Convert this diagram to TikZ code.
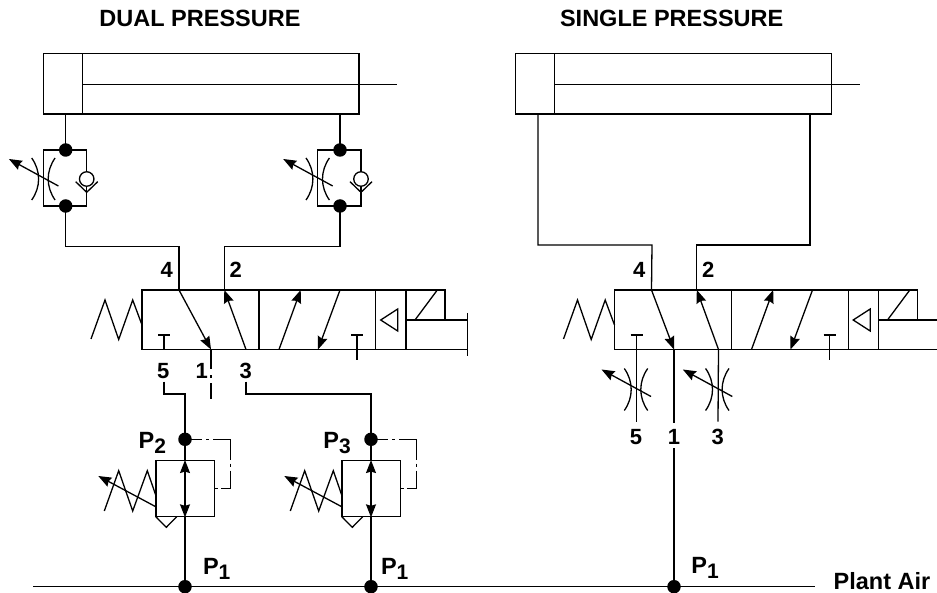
\documentclass[tikz,border=0pt]{standalone}
\usepackage{fontspec}
\setmainfont{Liberation Sans}
\usetikzlibrary{arrows.meta}
\tikzset{
  ln/.style={line width=1.3pt,line cap=butt,line join=miter},
  flow/.style={ln,-{Stealth[length=13pt,width=10pt,inset=1.5pt]}},
  bi/.style={ln,{Stealth[length=13pt,width=10pt,inset=1.5pt]}-{Stealth[length=13pt,width=10pt,inset=1.5pt]}},
  dot/.style={circle,fill=black,inner sep=0pt,minimum size=13.5pt},
  pilot/.style={ln,dash pattern=on 17pt off 4pt on 3pt off 4pt on 38pt off 4pt on 3pt off 4pt on 28pt off 3pt on 6pt off 20pt},
  box/.style={draw,ln,rectangle,inner sep=0pt},
  ttl/.style={font=\bfseries\fontsize{23.5}{26}\selectfont,inner sep=0pt},
  num/.style={font=\bfseries\fontsize{22}{24}\selectfont,inner sep=0pt},
  prs/.style={font=\bfseries\fontsize{23.5}{25}\selectfont,inner sep=0pt}
}
\newcommand{\Psub}[1]{P\raisebox{-5pt}{\fontsize{21}{22}\selectfont #1}}
% restrictor with adjustable arrow; #1 = centre
\newcommand{\Restr}[1]{%
  \begin{scope}[shift={#1}]
    \draw[ln] (-11.7,-21) .. controls (-2.5,-8) and (-2.5,8) .. (-11.7,21);
    \draw[ln] (11.7,-21) .. controls (2.5,-8) and (2.5,8) .. (11.7,21);
    \draw[flow] (15,7) -- (-34.5,-20);
  \end{scope}}
% check valve in a flow control; #1 = x shift, #2 = name prefix
\newcommand{\FlowCtl}[2]{%
  \begin{scope}[shift={(#1,0)}]
    \node[dot] (#2t) at (65.7,150) {};
    \node[dot] (#2b) at (65.7,206) {};
    \node[circle,draw,ln,inner sep=0pt,minimum size=14.5pt] (#2c) at (86.7,179) {};
    \coordinate (#2v) at (86.7,192.3);
    \draw[ln] (#2t.center) -| (43.4,206) -- (#2b.center);
    \draw[ln] (#2t.center) -| (#2c.north);
    \draw[ln] (#2c.south) -- (#2v) |- (#2b.center);
    \draw[ln] (75.7,181.7) -- (#2v) -- (97.7,181.7);
  \end{scope}
  \Restr{(#1+43.4,179)}}
% valve body; #1 = x shift, #2 = name prefix, #3 = x of port 1 before shift
\newcommand{\Valve}[3]{%
  \begin{scope}[shift={(#1,0)}]
    \coordinate (#2p4) at (179,290);
    \coordinate (#2p2) at (224.3,290);
    \coordinate (#2p1) at (#3,349.5);
    \coordinate (#2p3) at (246,349.5);
    \coordinate (#2p5) at (164,349.5);
    \draw[ln] (142,290) rectangle (406,349.5);
    \draw[ln] (259,290) -- (259,349.5);
    \draw[ln] (375.7,290) -- (375.7,349.5);
    \draw[ln] (406,290) -- (445,290) -- (445,320);
    \draw[line width=1.7pt] (406,290) -- (406,349.5);
    \draw[line width=1.9pt] (406,320) -- (445,320);
    \draw[ln] (437.3,290) -- (415,320);
    \draw[ln] (380.7,320) -- (397.7,309) -- (397.7,331) -- cycle;
    \draw[ln] (91,339) -- (105,300) -- (118.7,339.5) -- (132.7,300) -- (142,325);
    \draw[flow] (#2p4) -- (#2p1);
    \draw[flow] (#2p3) -- (#2p2);
    \draw[flow] (279,349.5) -- (300.7,290);
    \draw[flow] (340,290) -- (318,349.5);
    \draw[ln] (158,335) -- (170,335);
    \draw[ln] (164,335) -- (#2p5);
    \draw[ln] (351,335) -- (363,335);
    \draw[ln] (357,335) -- (357,360);
  \end{scope}}
% pressure regulator; #1 = x shift, #2 = name prefix
\newcommand{\Reg}[2]{%
  \begin{scope}[shift={(#1,0)}]
    \node[dot] (#2t) at (185,439.3) {};
    \node[dot] (#2b) at (185,586.7) {};
    \node[box,minimum width=58.3pt,minimum height=56pt] (#2r) at (185,488.7) {};
    \draw[ln] (#2t.center) -- (#2r.north);
    \draw[ln] (#2r.south) -- (#2b.center);
    \draw[bi] (#2r.south) -- (#2r.north);
    \draw[pilot] (#2t.center) -| (230.7,488.7) -- (#2r.east);
    \draw[ln] (104.3,511) -- (118.7,470.7) -- (132.7,511) -- (147.3,470.7) -- (155.7,495);
    \draw[flow] (155.7,506.7) -- (98.3,476);
    \draw[ln] (155.8,516.7) -- (166.3,527.3) -- (176.7,516.7);
  \end{scope}}
\begin{document}
\begin{tikzpicture}[x=1pt,y=-1pt]
\useasboundingbox[fill=white] (0,0) rectangle (937,593);

% titles
\node[ttl] (t1) at (200,18.3) {DUAL PRESSURE};
\node[ttl] (t2) at (671.7,18.3) {SINGLE PRESSURE};

% cylinders
\node[box,minimum width=315.7pt,minimum height=60.3pt] (cylA) at (201.15,83.85) {};
\draw[ln] (82.3,53.7) -- (82.3,114);
\coordinate (rodA) at (396.7,84.3);
\draw[ln] (82.3,84.3) -- (rodA);
\node[box,minimum width=315.6pt,minimum height=60.3pt] (cylB) at (673.5,83.85) {};
\draw[ln] (554.7,53.7) -- (554.7,114);
\coordinate (rodB) at (860,84.3);
\draw[ln] (554.7,84.3) -- (rodB);

% flow controls
\FlowCtl{0}{fa}
\FlowCtl{274.3}{fb}

% valves
\Valve{0}{va}{211}
\Valve{472.5}{vb}{201.5}
% solenoid pilot tails
\draw[ln] (445,320) -- (467.3,320);
\draw[ln] (406,349.5) -- (467.3,349.5);
\draw[ln] (467.3,313) -- (467.3,356);
\draw[ln] (917.5,320) -- (937,320);
\draw[ln] (878.5,349.5) -- (937,349.5);

% regulators
\Reg{0}{ra}
\Reg{186}{rb}
\node[dot] (pc) at (674,586.7) {};
\coordinate (airL) at (33,586.7);
\coordinate (airR) at (815,586.7);
\draw[ln] (airL) -- (airR);

% left circuit piping
\draw[ln] (fat.center) -- (fat.center |- cylA.south);
\draw[ln] (fbt.center) -- (fbt.center |- cylA.south);
\draw[ln] (fab.center) |- (179,246.7) -- (vap4);
\draw[ln] (fbb.center) |- (224.3,246.7) -- (vap2);
\coordinate (a5) at (164,381.7);
\coordinate (a3) at (246,381.7);
\draw[ln] (a5) |- (185,394) -- (rat.center);
\draw[ln] (a3) |- (371,394) -- (rbt.center);
\coordinate (a1) at (211,399);
\draw[ln,dash pattern=on 20pt off 6pt on 3pt off 5pt on 20pt off 50pt] (vap1) -- (a1);

% right circuit piping
\draw[ln] (538,114) |- (652,245) -- (vbp4);
\draw[ln] (810,114) |- (696.8,245) -- (vbp2);
\coordinate (b5) at (636.5,421.7);
\coordinate (b1) at (674,422.7);
\coordinate (b1l) at (674,448);
\coordinate (b3) at (718,421.7);
\draw[ln] (vbp5) -- (b5);
\draw[ln] (vbp1) -- (b1);
\draw[ln] (vbp3) -- (b3);
\draw[ln] (b1l) -- (pc.center);
\Restr{(636,389.5)}
\Restr{(717.3,389.5)}

% labels
\node[num] (n4a) at (166.7,270) {4};
\node[num] (n2a) at (235.7,270) {2};
\node[num] (n5a) at (163.3,370.7) {5};
\node[num] (n1a) at (201.7,370.7) {1};
\node[num] (n3a) at (245.7,370.7) {3};
\node[num] (n4b) at (639.2,270) {4};
\node[num] (n2b) at (708.2,270) {2};
\node[num] (n5b) at (636,436.7) {5};
\node[num] (n1b) at (674,436.7) {1};
\node[num] (n3b) at (717.7,436.7) {3};
\node[prs] (p2) at (152.3,442.7) {\Psub{2}};
\node[prs] (p3) at (337,442.7) {\Psub{3}};
\node[prs] (p1a) at (216.7,569) {\Psub{1}};
\node[prs] (p1b) at (394.7,569) {\Psub{1}};
\node[prs] (p1c) at (705,568) {\Psub{1}};
\node[ttl] (air) at (882,580.7) {Plant Air};
\end{tikzpicture}
\end{document}
